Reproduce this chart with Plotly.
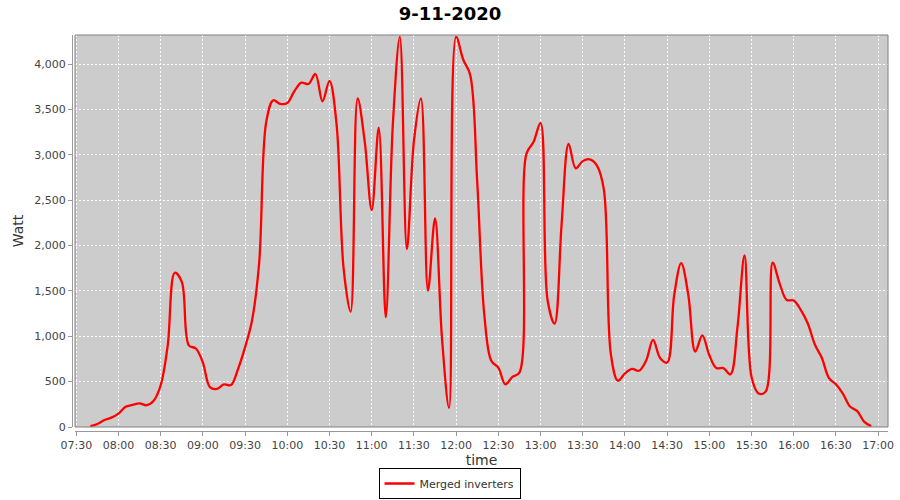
import plotly.graph_objects as go

# 5-minute readings (time of day, watts)
times = [
    "07:40", "07:45", "07:50", "07:55", "08:00", "08:05", "08:10", "08:15", "08:20", "08:25",
    "08:30", "08:35", "08:40", "08:45", "08:50", "08:55", "09:00", "09:05", "09:10", "09:15",
    "09:20", "09:25", "09:30", "09:35", "09:40", "09:45", "09:50", "09:55", "10:00", "10:05",
    "10:10", "10:15", "10:20", "10:25", "10:30", "10:35", "10:40", "10:45", "10:50", "10:55",
    "11:00", "11:05", "11:10", "11:15", "11:20", "11:25", "11:30", "11:35", "11:40", "11:45",
    "11:50", "11:55", "12:00", "12:05", "12:10", "12:15", "12:20", "12:25", "12:30", "12:35",
    "12:40", "12:45", "12:50", "12:55", "13:00", "13:05", "13:10", "13:15", "13:20", "13:25",
    "13:30", "13:35", "13:40", "13:45", "13:50", "13:55", "14:00", "14:05", "14:10", "14:15",
    "14:20", "14:25", "14:30", "14:35", "14:40", "14:45", "14:50", "14:55", "15:00", "15:05",
    "15:10", "15:15", "15:20", "15:25", "15:30", "15:35", "15:40", "15:45", "15:50", "15:55",
    "16:00", "16:05", "16:10", "16:15", "16:20", "16:25", "16:30", "16:35", "16:40", "16:45",
    "16:50", "16:55",
]
watts = [
    10, 33, 77, 103, 147, 222, 244, 260, 240, 290,
    460, 900, 1700, 1600, 900, 865, 710, 440, 420, 470,
    462, 640, 880, 1180, 1810, 3360, 3600, 3560, 3570, 3700,
    3795, 3780, 3890, 3590, 3815, 3340, 1750, 1270, 3620, 3150,
    2390, 3300, 1210, 3330, 4300, 1960, 3150, 3620, 1503, 2300,
    970, 210, 4300, 4050, 3880, 2700, 1245, 730, 655, 471,
    552, 600, 3013, 3140, 3350, 1400, 1140, 2240, 3120, 2850,
    2930, 2950, 2884, 2620, 803, 510, 590, 640, 620, 730,
    960, 760, 710, 1450, 1805, 1460, 830, 1010, 790, 650,
    649, 580, 1100, 1890, 550, 370, 390, 1810, 1580, 1400,
    1395, 1290, 1140, 910, 760, 540, 470, 365, 225, 177,
    60, 10,
]

day = "2020-11-09"
series_name = "Merged inverters"
chart_title = "9-11-2020"
x_title = "time"
y_title = "Watt"

x_vals = [f"{day} {t}:00" for t in times]

fig = go.Figure()
fig.add_trace(go.Scatter(
    x=x_vals, y=watts, mode="lines", name=series_name,
    line=dict(color="#FF0000", width=2.3, shape="spline", smoothing=1.0),
))

W, H = 900, 500
ml, mr, mt, mb = 72, 12, 35, 69
pw, ph = W - ml - mr, H - mt - mb
dx = 3 / pw
dy = 4 / ph

font_family = "DejaVu Sans"
tick_color = "#444444"

fig.update_layout(
    width=W, height=H,
    margin=dict(l=ml, r=mr, t=mt, b=mb, pad=0, autoexpand=False),
    paper_bgcolor="white",
    plot_bgcolor="#CCCCCC",
    font=dict(family=font_family, size=11, color=tick_color),
    title=dict(text=f"<b>{chart_title}</b>", x=(450 - ml) / pw, xref="paper",
               y=1 - 14 / H, yref="container", yanchor="middle",
               font=dict(family=font_family, size=18, color="black")),
    showlegend=True,
    legend=dict(orientation="h", x=(449.5 - ml) / pw, xanchor="center",
                y=-(468 - (H - mb)) / ph, yanchor="top",
                bordercolor="black", borderwidth=1, bgcolor="white",
                font=dict(family=font_family, size=11, color="#333333"),
                itemwidth=30, tracegroupgap=0),
    xaxis=dict(
        domain=[dx, 1], anchor="free", position=0,
        type="date",
        range=[f"{day} 07:29:05", f"{day} 17:07:00"],
        tick0=f"{day} 07:30:00", dtick=30 * 60 * 1000, tickformat="%H:%M",
        showgrid=True, gridcolor="white", gridwidth=1, griddash="2px,2px",
        showline=True, linecolor="#999999", linewidth=1,
        ticks="outside", ticklen=4, tickcolor="#999999",
        tickfont=dict(family=font_family, size=11, color=tick_color),
        title=dict(text=x_title, standoff=3,
                   font=dict(family=font_family, size=14, color="#333333")),
        zeroline=False, fixedrange=True, automargin=False,
    ),
    yaxis=dict(
        domain=[dy, 1], anchor="free", position=0,
        range=[0, 4320], dtick=500, tickformat=",d",
        showgrid=True, gridcolor="white", gridwidth=1, griddash="2px,2px",
        showline=True, linecolor="#999999", linewidth=1,
        ticks="outside", ticklen=4, tickcolor="#999999",
        tickfont=dict(family=font_family, size=11, color=tick_color),
        title=dict(text=y_title, standoff=6,
                   font=dict(family=font_family, size=14, color="#333333")),
        zeroline=False, fixedrange=True, automargin=False,
    ),
    shapes=[dict(type="rect", xref="paper", yref="paper", x0=dx, x1=1, y0=dy, y1=1,
                 line=dict(color="#808080", width=1), fillcolor="rgba(0,0,0,0)", layer="above")],
)

fig.write_html("out.html", config={"displayModeBar": False},
               post_script="document.body.style.margin='0px';")
